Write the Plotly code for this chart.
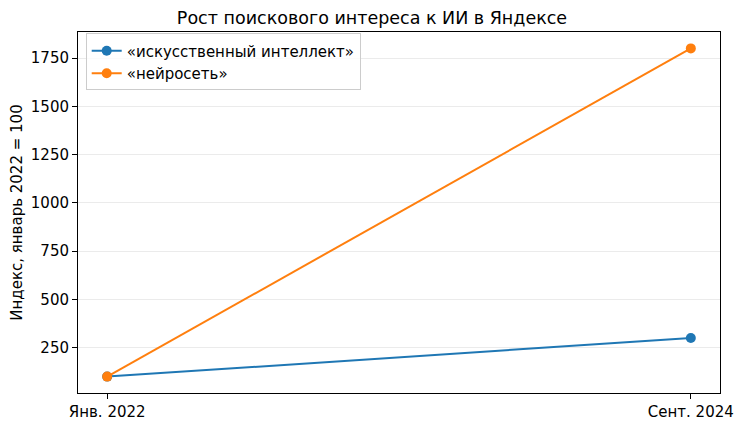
import plotly.graph_objects as go

categories = ["Янв. 2022", "Сент. 2024"]
ai_values = [100, 300]
neuro_values = [100, 1800]
series_names = ["«искусственный интеллект»", "«нейросеть»"]
y_ticks = [250, 500, 750, 1000, 1250, 1500, 1750]

fig = go.Figure()
fig.add_trace(go.Scatter(x=[0, 1], y=ai_values, mode="lines+markers", name=series_names[0],
                         line=dict(color="#1f77b4", width=2), marker=dict(size=10, color="#1f77b4")))
fig.add_trace(go.Scatter(x=[0, 1], y=neuro_values, mode="lines+markers", name=series_names[1],
                         line=dict(color="#ff7f0e", width=2), marker=dict(size=10, color="#ff7f0e")))

fig.update_layout(
    width=744, height=429,
    margin=dict(l=78, r=24, t=32, b=36, autoexpand=False),
    paper_bgcolor="white", plot_bgcolor="white",
    font=dict(family="DejaVu Sans", size=15, color="black"),
    title=dict(text="Рост поискового интереса к ИИ в Яндексе", x=0.5, xanchor="center",
               y=1 - 18 / 429, yanchor="middle", font=dict(size=17.5)),
    xaxis=dict(range=[-0.05, 1.05], tickvals=[0, 1], ticktext=categories,
               showgrid=False, zeroline=False, showline=True, linecolor="black", linewidth=1,
               mirror=True, ticks="outside", ticklen=5, tickcolor="black", tickfont=dict(size=15)),
    yaxis=dict(range=[15, 1885], tickvals=y_ticks, showgrid=True, gridcolor="#ebebeb", gridwidth=1,
               zeroline=False, showline=True, linecolor="black", linewidth=1, mirror=True,
               ticks="outside", ticklen=5, tickcolor="black", tickfont=dict(size=15),
               title=dict(text="Индекс, январь 2022 = 100", standoff=4, font=dict(size=15))),
    legend=dict(x=0.012, y=0.996, xanchor="left", yanchor="top", bgcolor="rgba(255,255,255,0.8)",
                bordercolor="#cccccc", borderwidth=1, font=dict(size=15)),
    showlegend=True,
)

fig.write_html("out.html", config={"displayModeBar": False},
               post_script="document.body.style.margin='0';")
